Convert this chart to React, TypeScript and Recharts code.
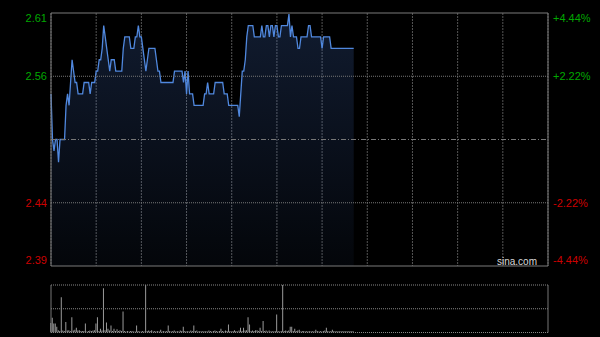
import React from 'react';
import {
    AreaChart, Area, BarChart, Bar, XAxis, YAxis, CartesianGrid, ReferenceLine, ReferenceArea,
} from 'recharts';

// minutes since 9:30 (lunch removed), one full HK session = 330 minutes
const timeTicks = [0, 30, 60, 90, 120, 150, 180, 210, 240, 270, 300, 330];

const prevClose = 2.5;
const priceTicks = [2.389, 2.4445, 2.5, 2.5555, 2.611];
const priceLabels = ['2.39', '2.44', '', '2.56', '2.61'];
const pctTicks = [-4.44, -2.22, 0, 2.22, 4.44];
const pctLabels = ['-4.44%', '-2.22%', '', '+2.22%', '+4.44%'];

const prices = [
    2.54, 2.50, 2.49, 2.50, 2.50, 2.48, 2.50, 2.50, 2.50, 2.50,
    2.53, 2.54, 2.53, 2.55, 2.57, 2.56, 2.55, 2.55, 2.54, 2.54,
    2.54, 2.54, 2.55, 2.55, 2.55, 2.55, 2.54, 2.55, 2.55, 2.55,
    2.56, 2.56, 2.57, 2.57, 2.58, 2.60, 2.59, 2.58, 2.57, 2.56,
    2.57, 2.57, 2.57, 2.56, 2.56, 2.56, 2.56, 2.56, 2.58, 2.59,
    2.59, 2.59, 2.59, 2.58, 2.58, 2.58, 2.59, 2.59, 2.60, 2.59,
    2.59, 2.58, 2.57, 2.56, 2.57, 2.58, 2.58, 2.58, 2.58, 2.58,
    2.57, 2.56, 2.56, 2.55, 2.55, 2.55, 2.55, 2.55, 2.55, 2.55,
    2.55, 2.55, 2.56, 2.56, 2.56, 2.56, 2.56, 2.56, 2.55, 2.56,
    2.54, 2.56, 2.54, 2.54, 2.54, 2.53, 2.53, 2.53, 2.53, 2.53,
    2.53, 2.53, 2.54, 2.54, 2.55, 2.54, 2.54, 2.54, 2.54, 2.55,
    2.55, 2.55, 2.55, 2.55, 2.55, 2.54, 2.54, 2.54, 2.53, 2.53,
    2.53, 2.53, 2.53, 2.53, 2.53, 2.52, 2.54, 2.56, 2.56, 2.57,
    2.59, 2.60, 2.60, 2.60, 2.60, 2.59, 2.59, 2.59, 2.59, 2.59,
    2.60, 2.59, 2.59, 2.60, 2.60, 2.59, 2.60, 2.60, 2.59, 2.60,
    2.60, 2.59, 2.59, 2.60, 2.60, 2.60, 2.60, 2.60, 2.61, 2.59,
    2.60, 2.59, 2.59, 2.59, 2.58, 2.58, 2.59, 2.59, 2.59, 2.59,
    2.59, 2.60, 2.60, 2.59, 2.59, 2.59, 2.59, 2.59, 2.59, 2.59,
    2.58, 2.59, 2.59, 2.59, 2.59, 2.59, 2.58, 2.58, 2.58, 2.58,
    2.58, 2.58, 2.58, 2.58, 2.58, 2.58, 2.58, 2.58, 2.58, 2.58,
    2.58, 2.58,
];

// volume in % of the panel height
const volumes = [
    20, 31, 19, 19, 12, 5, 3, 74, 4, 3,
    22, 4, 5, 3, 32, 4, 6, 10, 4, 5,
    3, 3, 3, 19, 2, 3, 4, 3, 4, 5,
    19, 32, 3, 8, 4, 93, 5, 21, 8, 4,
    15, 3, 8, 3, 7, 3, 5, 3, 44, 3,
    2, 3, 2, 3, 3, 2, 2, 15, 3, 2,
    2, 3, 2, 100, 3, 4, 3, 5, 2, 3,
    2, 3, 2, 6, 2, 3, 2, 3, 15, 3,
    2, 3, 4, 2, 3, 2, 4, 3, 12, 3,
    2, 3, 2, 4, 3, 15, 3, 4, 2, 3,
    2, 3, 2, 3, 2, 4, 3, 2, 3, 4,
    3, 2, 3, 8, 3, 2, 4, 3, 17, 3,
    2, 3, 5, 3, 2, 4, 10, 3, 10, 4,
    5, 32, 17, 3, 4, 3, 5, 5, 3, 10,
    3, 24, 3, 4, 2, 4, 2, 3, 2, 3,
    38, 3, 2, 3, 100, 3, 4, 3, 4, 12,
    12, 3, 8, 3, 4, 6, 2, 3, 3, 2,
    3, 2, 3, 2, 3, 2, 6, 3, 2, 3,
    2, 3, 4, 10, 3, 2, 3, 6, 3, 2,
    3, 2, 3, 2, 3, 2, 3, 2, 3, 2,
    3, 2,
];

const priceData = prices.map((p, i) => ({ m: i, price: p }));
const volData = volumes.map((v, i) => ({ m: i, vol: v }));

const GREEN = '#00a800';
const RED = '#cc0000';
const FONT = '"Liberation Sans", Arial, sans-serif';

const labelColor = (i: number) => (i < 2 ? RED : GREEN);
const labelShift = (i: number) => (i === 0 ? -6 : i === 4 ? 5 : 0);

const PriceTick = (props: any) => {
    const { x, y, payload } = props;
    const i = priceTicks.indexOf(payload.value);
    if (i < 0 || !priceLabels[i]) return null;
    return <text x={x} y={y + labelShift(i)} textAnchor="end" dominantBaseline="central"
        fill={labelColor(i)} fontSize={11} fontFamily={FONT}>{priceLabels[i]}</text>;
};

const PctTick = (props: any) => {
    const { x, y, payload } = props;
    const i = pctTicks.indexOf(payload.value);
    if (i < 0 || !pctLabels[i]) return null;
    return <text x={x} y={y + labelShift(i)} textAnchor="start" dominantBaseline="central"
        fill={labelColor(i)} fontSize={11} fontFamily={FONT}>{pctLabels[i]}</text>;
};

export default function App() {
    return (
        <div style={{ position: 'absolute', left: 0, top: 0, width: 600, height: 337, background: '#000', overflow: 'hidden' }}>
            <div style={{ position: 'absolute', left: 0, top: 0 }}>
                <AreaChart width={600} height={270} data={priceData} margin={{ top: 13, right: 0, bottom: 4, left: 0 }}>
                    <defs>
                        <linearGradient id="priceFill" x1="0" y1="0" x2="0" y2="1">
                            <stop offset="0%" stopColor="#4a78d0" stopOpacity={0.38} />
                            <stop offset="100%" stopColor="#4a78d0" stopOpacity={0.08} />
                        </linearGradient>
                    </defs>
                    <XAxis dataKey="m" type="number" domain={[0, 330]} ticks={timeTicks} hide />
                    <YAxis yAxisId="price" orientation="left" width={51} type="number"
                        domain={[priceTicks[0], priceTicks[4]]} ticks={priceTicks}
                        axisLine={false} tickLine={false} tickSize={0} tickMargin={4}
                        tick={<PriceTick />} interval={0} allowDataOverflow />
                    <YAxis yAxisId="pct" orientation="right" width={52} type="number"
                        domain={[pctTicks[0], pctTicks[4]]} ticks={pctTicks}
                        axisLine={false} tickLine={false} tickSize={0} tickMargin={5}
                        tick={<PctTick />} interval={0} allowDataOverflow />
                    <CartesianGrid yAxisId="price" horizontal={false} stroke="#555" strokeDasharray="2 1" />
                    <Area yAxisId="price" type="linear" dataKey="price" stroke="#5088de" strokeWidth={1.3}
                        fill="url(#priceFill)" isAnimationActive={false} dot={false} activeDot={false} />
                    <ReferenceLine yAxisId="price" y={priceTicks[1]} stroke="#777" strokeDasharray="1 1" />
                    <ReferenceLine yAxisId="price" y={priceTicks[3]} stroke="#777" strokeDasharray="1 1" />
                    <ReferenceLine yAxisId="price" y={prevClose} stroke="#777" strokeDasharray="5 2 1 2" />
                    <ReferenceArea yAxisId="price" x1={0} x2={330} y1={priceTicks[0]} y2={priceTicks[4]}
                        fill="none" stroke="#7a7a7a" strokeWidth={1} />
                </AreaChart>
            </div>
            <div style={{ position: 'absolute', right: 63, top: 255, color: '#d8d8d8', fontSize: 10, fontFamily: FONT, lineHeight: '13px' }}>
                sina.com
            </div>
            <div style={{ position: 'absolute', left: 0, top: 280 }}>
                <BarChart width={600} height={57} data={volData} margin={{ top: 5, right: 52, bottom: 4.5, left: 51 }}>
                    <XAxis dataKey="m" type="number" domain={[0, 330]} hide />
                    <YAxis type="number" domain={[0, 100]} hide allowDataOverflow />
                    <ReferenceLine y={100} stroke="#888" strokeDasharray="1 1" />
                    <ReferenceLine y={50} stroke="#888" strokeDasharray="1 1" />
                    <ReferenceLine y={0} stroke="#888" strokeDasharray="1 1" />
                    <ReferenceLine x={0} stroke="#777" />
                    <ReferenceLine x={330} stroke="#777" />
                    <Bar dataKey="vol" fill="#9a9a9a" barSize={1} isAnimationActive={false} />
                </BarChart>
            </div>
        </div>
    );
}
